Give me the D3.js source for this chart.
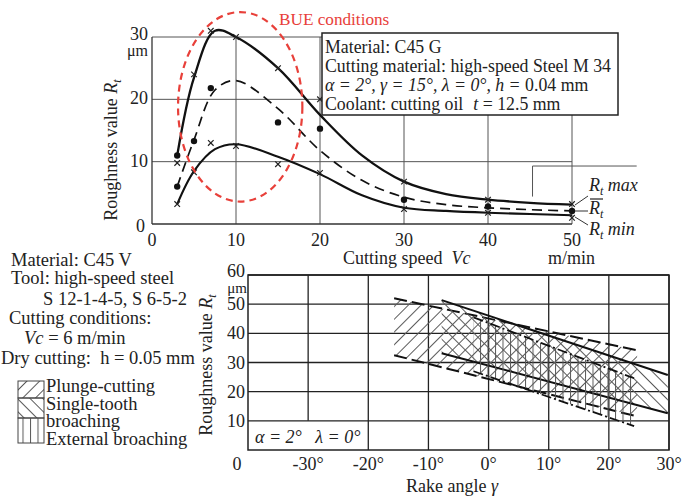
<!DOCTYPE html>
<html>
<head>
<meta charset="utf-8">
<script src="https://cdn.jsdelivr.net/npm/d3@7"></script>
<style>
  html, body { margin: 0; padding: 0; background: #fff; }
  svg { display: block; }
  text { font-family: "Liberation Serif", "Times New Roman", serif; fill: #222; white-space: pre; }
</style>
</head>
<body>
<svg id="fig" width="683" height="496"></svg>
<script>
// ---- Upper chart: roughness vs cutting speed ----
const speedTicks = [0, 10, 20, 30, 40, 50];
const rtTicksTop = [0, 10, 20, 30];

// smooth curves (speed, Rt)
const curveSpeeds = [3, 5, 7.5, 10, 15, 20, 25, 30, 35, 40, 45, 50];
const rtMaxCurve  = [11, 23.5, 31, 30, 25, 17.5, 11, 6.8, 4.8, 3.9, 3.4, 3.1];
const rtMeanCurve = [6, 13.5, 21.5, 23, 18.5, 11.8, 7, 4.3, 3.1, 2.6, 2.3, 2.1];
const rtMinCurve  = [3.2, 8.5, 12, 12.8, 10.8, 8, 4.6, 2.6, 2.1, 1.8, 1.6, 1.4];

// measured points
const crossSpeeds = [3, 5, 7, 10, 15, 20, 30, 40, 50, 3, 5, 7, 10, 15, 20, 30, 40, 50];
const crossValues = [9.8, 24, 31, 30, 25, 20, 6.8, 3.9, 3.2, 3.2, 8.3, 13, 12.5, 9.6, 8.2, 2.4, 1.8, 1.0];
const dotSpeeds = [3, 3, 5, 7, 15, 20, 30, 40, 50];
const dotValues = [11, 6, 13.3, 21.8, 16.3, 15.3, 3.9, 2.8, 2.1];

// ---- Lower chart: roughness vs rake angle ----
const rakeTicks = [-30, -20, -10, 0, 10, 20, 30];
const rtTicksBottom = [10, 20, 30, 40, 50, 60];

const plungeAngles = [-15.7, 24.7];
const plungeUpper  = [52, 34.2];
const plungeLower  = [32.5, 11.5];

const singleAngles = [-7.8, 29.8];
const singleUpper  = [51.4, 25.7];
const singleLower  = [33.2, 12.6];

const externalAngles = [-2.5, 24.2];
const externalUpper  = [45.5, 24.6];
const externalLower  = [27, 8.2];

const legendNames = ["Plunge-cutting", "Single-tooth", "broaching", "External broaching"];

const svg = d3.select("#fig");
const FS = 17.8;

// scales
const xTop = d3.scaleLinear([0, 50], [152, 572]);
const yTop = d3.scaleLinear([0, 30], [224, 37]);
const xBot = d3.scaleLinear([-40, 30], [248, 669]);
const yBot = d3.scaleLinear([0, 60], [450, 275]);

// hatch patterns
const defs = svg.append("defs");
function hatch(id, angle, gap) {
  const p = defs.append("pattern").attr("id", id)
    .attr("patternUnits", "userSpaceOnUse")
    .attr("width", gap).attr("height", gap)
    .attr("patternTransform", `rotate(${angle})`);
  p.append("line").attr("x1", 0.5).attr("y1", 0).attr("x2", 0.5).attr("y2", gap)
    .attr("stroke", "#5a5a5a").attr("stroke-width", 1);
}
hatch("hPlunge", 45, 9);
hatch("hSingle", -45, 9);
hatch("hExternal", 0, 7.5);

// ================= Upper chart =================
const gTop = svg.append("g");

// grid
gTop.selectAll(".vg").data(speedTicks.slice(1)).join("line")
  .attr("x1", d => xTop(d)).attr("x2", d => xTop(d))
  .attr("y1", yTop(30)).attr("y2", yTop(0))
  .attr("stroke", "#555").attr("stroke-width", 1);
gTop.selectAll(".hg").data(rtTicksTop.slice(1)).join("line")
  .attr("x1", xTop(0)).attr("x2", xTop(50))
  .attr("y1", d => yTop(d)).attr("y2", d => yTop(d))
  .attr("stroke", "#555").attr("stroke-width", 1);
// axes lines
gTop.append("line").attr("x1", xTop(0)).attr("x2", xTop(0)).attr("y1", yTop(30)).attr("y2", yTop(0))
  .attr("stroke", "#333").attr("stroke-width", 1.3);
gTop.append("line").attr("x1", xTop(0)).attr("x2", xTop(50)).attr("y1", yTop(0)).attr("y2", yTop(0))
  .attr("stroke", "#333").attr("stroke-width", 1.3);
// step outline at the right
gTop.append("path")
  .attr("d", d3.line()([[xTop(45.3), yTop(4.4)], [xTop(45.3), yTop(9.3)], [xTop(57.7), yTop(9.3)]]))
  .attr("fill", "none").attr("stroke", "#555").attr("stroke-width", 1);

// tick labels
gTop.selectAll(".xl").data(speedTicks).join("text")
  .attr("x", d => xTop(d)).attr("y", 246).attr("text-anchor", "middle")
  .attr("font-size", 18).text(d => d);
gTop.selectAll(".yl").data(rtTicksTop).join("text")
  .attr("x", d => d === 0 ? 145 : 148).attr("y", d => yTop(d) + (d === 0 ? 8 : d === 30 ? 3 : 5))
  .attr("text-anchor", "end").attr("font-size", 18).text(d => d);
gTop.append("text").attr("x", 148).attr("y", 56).attr("text-anchor", "end")
  .attr("font-size", 16).text("μm");

// axis titles
const yt1 = gTop.append("text").attr("transform", "translate(117,150) rotate(-90)")
  .attr("text-anchor", "middle").attr("font-size", 18);
yt1.append("tspan").text("Roughness value ");
yt1.append("tspan").attr("font-style", "italic").text("R");
yt1.append("tspan").attr("font-style", "italic").attr("font-size", 12).attr("dy", 4).text("t");

const xt1 = gTop.append("text").attr("x", 343).attr("y", 264).attr("font-size", 18);
xt1.append("tspan").text("Cutting speed  ");
xt1.append("tspan").attr("font-style", "italic").text("Vc");
gTop.append("text").attr("x", 548).attr("y", 264).attr("font-size", 18).text("m/min");

// curves
const lineTop = d3.line().x(d => xTop(d[0])).y(d => yTop(d[1])).curve(d3.curveCatmullRom.alpha(0.5));
const zipC = vals => curveSpeeds.map((s, i) => [s, vals[i]]);
gTop.append("path").attr("d", lineTop(zipC(rtMaxCurve)))
  .attr("fill", "none").attr("stroke", "#111").attr("stroke-width", 2.3);
gTop.append("path").attr("d", lineTop(zipC(rtMeanCurve)))
  .attr("fill", "none").attr("stroke", "#111").attr("stroke-width", 1.7).attr("stroke-dasharray", "10,6");
gTop.append("path").attr("d", lineTop(zipC(rtMinCurve)))
  .attr("fill", "none").attr("stroke", "#111").attr("stroke-width", 2.1);

// markers
const crosses = crossSpeeds.map((s, i) => [s, crossValues[i]]);
gTop.selectAll(".cx").data(crosses).join("path")
  .attr("d", d => { const x = xTop(d[0]), y = yTop(d[1]), r = 2.8;
    return `M${x - r},${y - r}L${x + r},${y + r}M${x - r},${y + r}L${x + r},${y - r}`; })
  .attr("stroke", "#222").attr("stroke-width", 1.2).attr("fill", "none");
const dots = dotSpeeds.map((s, i) => [s, dotValues[i]]);
gTop.selectAll(".dt").data(dots).join("circle")
  .attr("cx", d => xTop(d[0])).attr("cy", d => yTop(d[1])).attr("r", 3.2).attr("fill", "#111");

// BUE region
const bue = { speed: 10.5, rt: 18.8, rx: 7.4, ry: 15.2 };
gTop.append("ellipse")
  .attr("cx", xTop(bue.speed)).attr("cy", yTop(bue.rt))
  .attr("rx", xTop(bue.rx) - xTop(0)).attr("ry", yTop(0) - yTop(bue.ry))
  .attr("fill", "none").attr("stroke", "#e8403a").attr("stroke-width", 2.2)
  .attr("stroke-dasharray", "7,5");
gTop.append("text").attr("x", 279).attr("y", 25).attr("font-size", 17.2)
  .style("fill", "#e8403a").text("BUE conditions");

// condition box
gTop.append("rect").attr("x", 322).attr("y", 33).attr("width", 296).attr("height", 82)
  .attr("fill", "#fff").attr("stroke", "#222").attr("stroke-width", 1.5);
const bx = 325;
gTop.append("text").attr("x", bx).attr("y", 53).attr("font-size", FS).text("Material: C45 G");
gTop.append("text").attr("x", bx).attr("y", 72).attr("font-size", FS).text("Cutting material: high-speed Steel M 34");
const l3 = gTop.append("text").attr("x", bx).attr("y", 91).attr("font-size", FS);
l3.append("tspan").attr("font-style", "italic").text("α = 2°, γ = 15°, λ = 0°, h = ");
l3.append("tspan").text("0.04 mm");
const l4 = gTop.append("text").attr("x", bx).attr("y", 110).attr("font-size", FS);
l4.append("tspan").text("Coolant: cutting oil");
l4.append("tspan").attr("dx", 10).attr("font-style", "italic").text("t");
l4.append("tspan").text(" = 12.5 mm");

// curve labels
const labG = gTop.append("g").attr("font-size", 18).attr("font-style", "italic");
[[205, 196], [211, 211], [217, 225]].forEach(([y0, y1]) => {
  labG.append("line").attr("x1", 575).attr("y1", y0).attr("x2", 588).attr("y2", y1)
    .attr("stroke", "#333").attr("stroke-width", 1);
});
function rtLabel(y, suffix, bar) {
  const t = labG.append("text").attr("x", 589).attr("y", y);
  t.append("tspan").text("R");
  t.append("tspan").attr("font-size", 12).attr("dy", 4).text("t");
  if (suffix) t.append("tspan").attr("dy", -4).text(" " + suffix);
  if (bar) {
    labG.append("line").attr("x1", 590).attr("x2", 603).attr("y1", y - 15).attr("y2", y - 15)
      .attr("stroke", "#222").attr("stroke-width", 1.2);
  }
}
rtLabel(191, "max", false);
rtLabel(214, "", true);
rtLabel(235, "min", false);

// ================= Lower chart =================
const gBot = svg.append("g");

// hatched bands
function band(angles, upper, lower, fillId, dash, width) {
  const pts = [[angles[0], upper[0]], [angles[1], upper[1]], [angles[1], lower[1]], [angles[0], lower[0]]];
  gBot.append("path")
    .attr("d", d3.line().x(d => xBot(d[0])).y(d => yBot(d[1]))(pts) + "Z")
    .attr("fill", `url(#${fillId})`).attr("stroke", "none");
  [upper, lower].forEach(v => {
    gBot.append("line")
      .attr("x1", xBot(angles[0])).attr("y1", yBot(v[0]))
      .attr("x2", xBot(angles[1])).attr("y2", yBot(v[1]))
      .attr("stroke", "#111").attr("stroke-width", width)
      .attr("stroke-dasharray", dash);
  });
}

// grid (the -30° line stops above the angle note)
gBot.selectAll(".vg").data(rakeTicks).join("line")
  .attr("x1", d => xBot(d)).attr("x2", d => xBot(d))
  .attr("y1", yBot(60)).attr("y2", d => d === -30 ? yBot(10) : yBot(0))
  .attr("stroke", "#222").attr("stroke-width", 1.3);
gBot.selectAll(".hg").data(rtTicksBottom).join("line")
  .attr("x1", xBot(-40)).attr("x2", xBot(30))
  .attr("y1", d => yBot(d)).attr("y2", d => yBot(d))
  .attr("stroke", "#222").attr("stroke-width", 1.3);
gBot.append("rect").attr("x", xBot(-40)).attr("y", yBot(60))
  .attr("width", xBot(30) - xBot(-40)).attr("height", yBot(0) - yBot(60))
  .attr("fill", "none").attr("stroke", "#222").attr("stroke-width", 1.5);

band(plungeAngles, plungeUpper, plungeLower, "hPlunge", "13,5", 2);
band(singleAngles, singleUpper, singleLower, "hSingle", null, 2);
band(externalAngles, externalUpper, externalLower, "hExternal", "10,3,2,3", 1.8);

// tick labels
gBot.selectAll(".xl").data(rakeTicks).join("text")
  .attr("x", d => xBot(d)).attr("y", 470).attr("text-anchor", "middle")
  .attr("font-size", 18).text(d => d + "°");
gBot.append("text").attr("x", 237).attr("y", 470).attr("text-anchor", "middle")
  .attr("font-size", 18).text("0");
gBot.selectAll(".yl").data(rtTicksBottom).join("text")
  .attr("x", 245).attr("y", d => yBot(d) + (d === 60 ? 2 : 6))
  .attr("text-anchor", "end").attr("font-size", 18).text(d => d);
gBot.append("text").attr("x", 247).attr("y", 293).attr("text-anchor", "end")
  .attr("font-size", 15).text("μm");

const yt2 = gBot.append("text").attr("transform", "translate(212,365) rotate(-90)")
  .attr("text-anchor", "middle").attr("font-size", 18);
yt2.append("tspan").text("Roughness value ");
yt2.append("tspan").attr("font-style", "italic").text("R");
yt2.append("tspan").attr("font-style", "italic").attr("font-size", 12).attr("dy", 4).text("t");

const xt2 = gBot.append("text").attr("x", 452).attr("y", 492).attr("text-anchor", "middle").attr("font-size", 18);
xt2.append("tspan").text("Rake angle ");
xt2.append("tspan").attr("font-style", "italic").text("γ");

gBot.append("text").attr("x", 255).attr("y", 443).attr("font-size", 18)
  .attr("font-style", "italic").text("α = 2°   λ = 0°");

// ================= Left notes + legend =================
const gL = svg.append("g").attr("font-size", 18.5);
const notes = [
  { x: 11, y: 266, parts: [["Material: C45 V", false]] },
  { x: 11, y: 284, parts: [["Tool: high-speed steel", false]] },
  { x: 43, y: 305, parts: [["S 12-1-4-5, S 6-5-2", false]] },
  { x: 9, y: 324, parts: [["Cutting conditions:", false]] },
  { x: 24, y: 344, parts: [["Vc", true], [" = 6 m/min", false]] },
  { x: 1, y: 364, parts: [["Dry cutting:  h = 0.05 mm", false]] }
];
notes.forEach(n => {
  const t = gL.append("text").attr("x", n.x).attr("y", n.y);
  n.parts.forEach(([s, it]) => t.append("tspan").attr("font-style", it ? "italic" : null).text(s));
});

const legendBoxes = [
  { id: "hPlunge", y0: 381, y1: 398 },
  { id: "hSingle", y0: 398, y1: 418 },
  { id: "hExternal", y0: 418, y1: 443 }
];
legendBoxes.forEach(b => {
  gL.append("rect").attr("x", 18).attr("y", b.y0).attr("width", 26).attr("height", b.y1 - b.y0)
    .attr("fill", `url(#${b.id})`).attr("stroke", "#444").attr("stroke-width", 1);
});
const legY = [392, 410, 427, 445];
legendNames.forEach((s, i) => {
  gL.append("text").attr("x", 46).attr("y", legY[i]).text(s);
});
</script>
</body>
</html>
